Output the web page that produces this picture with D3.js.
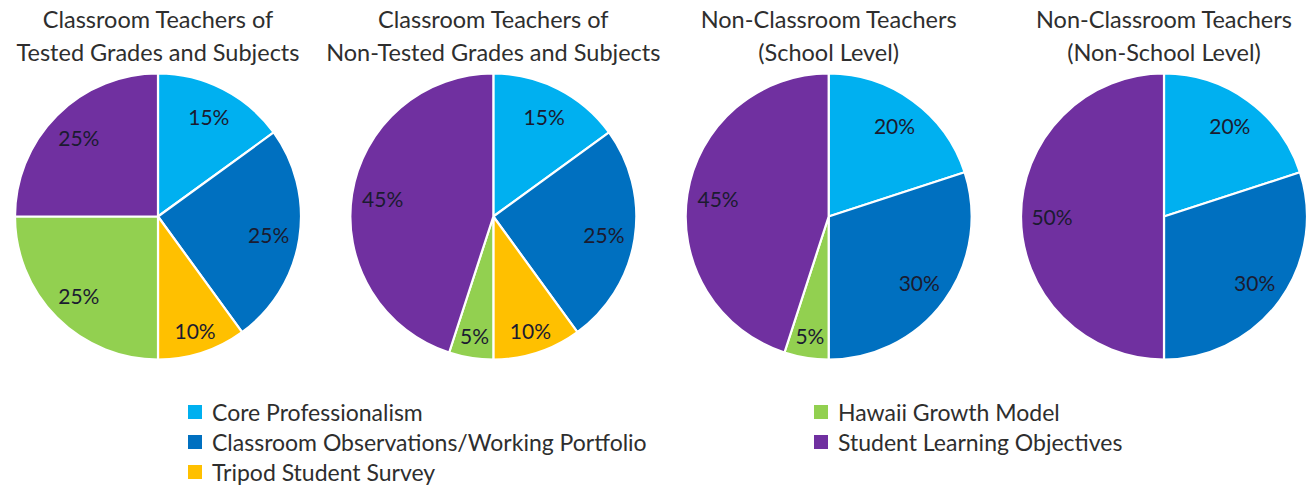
<!DOCTYPE html>
<html>
<head>
<meta charset="utf-8">
<script src="https://cdn.jsdelivr.net/npm/d3@7"></script>
<style>
  html, body { margin: 0; padding: 0; background: #ffffff; }
  svg { display: block; }
</style>
</head>
<body>
<svg id="chart" width="1308" height="491"></svg>
<script>
// ---- data ----
const categories = [
  "Core Professionalism",
  "Classroom Observations/Working Portfolio",
  "Tripod Student Survey",
  "Hawaii Growth Model",
  "Student Learning Objectives"
];
const colors = ["#00B0F0", "#0070C0", "#FFC000", "#92D050", "#7030A0"];

const chartTitles = [
  ["Classroom Teachers of", "Tested Grades and Subjects"],
  ["Classroom Teachers of", "Non-Tested Grades and Subjects"],
  ["Non-Classroom Teachers", "(School Level)"],
  ["Non-Classroom Teachers", "(Non-School Level)"]
];
// values per chart, in category order (percent)
const testedValues     = [15, 25, 10, 25, 25];
const nonTestedValues  = [15, 25, 10, 5, 45];
const schoolValues     = [20, 30, 0, 5, 45];
const nonSchoolValues  = [20, 30, 0, 0, 50];
const seriesValues = [testedValues, nonTestedValues, schoolValues, nonSchoolValues];

// ---- layout ----
const svg = d3.select("#chart");
const centerScale = d3.scalePoint().domain(d3.range(4)).range([158, 1164]);
const cy = 216.5, R = 143;
const FONT = "Lato, 'Open Sans', sans-serif";

const pie = d3.pie().sort(null).value(d => d.value);
const arc = d3.arc().innerRadius(0).outerRadius(R);

seriesValues.forEach((vals, ci) => {
  const cx = centerScale(ci);
  const data = vals.map((v, i) => ({ value: v, cat: i })).filter(d => d.value > 0);
  const g = svg.append("g").attr("transform", `translate(${cx},${cy})`);
  const arcs = pie(data);
  g.selectAll("path").data(arcs).join("path")
    .attr("d", arc)
    .attr("fill", d => colors[d.data.cat])
    .attr("stroke", "#ffffff")
    .attr("stroke-width", 2.2)
    .attr("stroke-linejoin", "round");

  g.selectAll("text.lbl").data(arcs).join("text")
    .attr("class", "lbl")
    .attr("transform", d => {
      const rl = d.data.value <= 10 ? 120 : 112;
      const a = (d.startAngle + d.endAngle) / 2;
      return `translate(${Math.sin(a) * rl},${-Math.cos(a) * rl})`;
    })
    .attr("text-anchor", "middle")
    .attr("dominant-baseline", "central")
    .attr("font-family", FONT)
    .attr("font-size", 21)
    .attr("fill", "#1b1b30")
    .text(d => d.data.value + "%");

  const t = svg.append("text")
    .attr("x", cx)
    .attr("text-anchor", "middle")
    .attr("font-family", FONT)
    .attr("font-size", 23.5)
    .attr("fill", "#2e2e2e");
  t.append("tspan").attr("x", cx).attr("y", 28).text(chartTitles[ci][0]);
  t.append("tspan").attr("x", cx).attr("y", 61).text(chartTitles[ci][1]);
});

// ---- legend ----
const legendCols = [
  { x: 188, items: [0, 1, 2] },
  { x: 814, items: [3, 4] }
];
const rowY = d3.scaleLinear().domain([0, 1]).range([412, 442]);
legendCols.forEach(col => {
  col.items.forEach((ci, ri) => {
    const y = rowY(ri);
    svg.append("rect")
      .attr("x", col.x).attr("y", y - 7)
      .attr("width", 14).attr("height", 14)
      .attr("fill", colors[ci]);
    svg.append("text")
      .attr("x", col.x + 24).attr("y", y)
      .attr("dominant-baseline", "central")
      .attr("font-family", FONT)
      .attr("font-size", 23)
      .attr("fill", "#2e2e2e")
      .text(categories[ci]);
  });
});
</script>
</body>
</html>
